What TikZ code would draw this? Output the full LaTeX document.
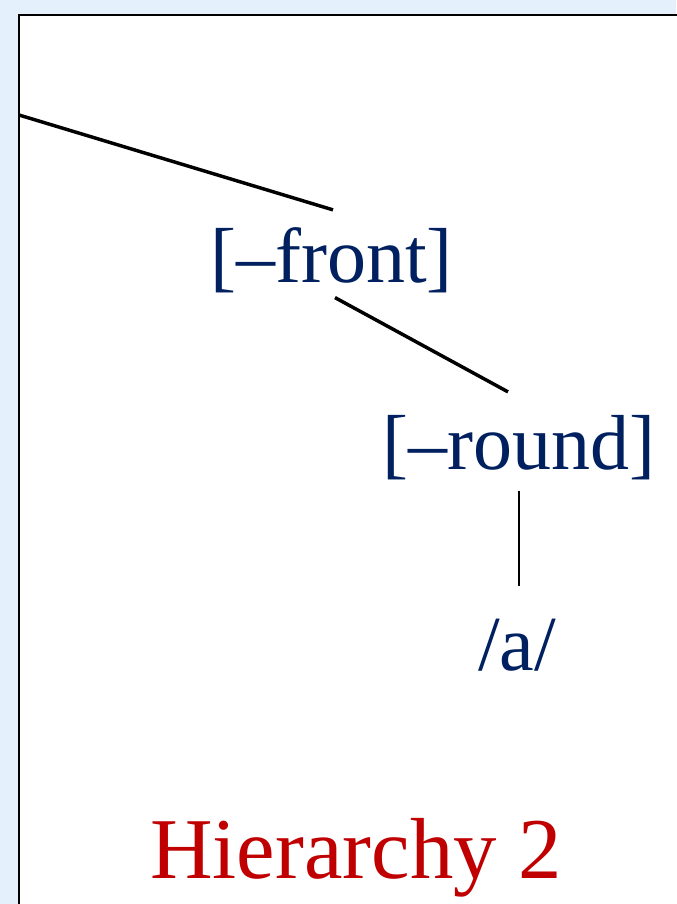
\documentclass[tikz,border=0pt]{standalone}
\usepackage{fontspec}
\setmainfont{Liberation Serif}
\definecolor{featblue}{HTML}{002060}
\definecolor{titlered}{HTML}{C00000}
\definecolor{paleblue}{HTML}{E4F1FD}
\begin{document}
\begin{tikzpicture}[
  x=0.75pt,y=-0.75pt,
  feat/.style={anchor=base,inner sep=0pt,text height=40.4pt,text depth=7pt,text=featblue,font=\fontsize{58.5}{70}\selectfont},
  title/.style={anchor=base,inner sep=0pt,text=titlered,font=\fontsize{65}{78}\selectfont},
  branch/.style={black,line width=2.6pt},
  stem/.style={black,line width=1.3pt}
]
  \useasboundingbox (0,0) rectangle (676,904);
  \fill[paleblue] (0,0) rectangle (676,904);
  \filldraw[fill=white,draw=black,line width=1.5pt] (19,15) rectangle (700,930);

  \coordinate (up) at (19,115);
  \node[feat] (front) at (331.5,282) {[--front]};
  \node[feat] (round) at (519,469) {[--round]};
  \node[feat] (a) at (517,670) {/a/};
  \node[title] (h) at (356,878) {Hierarchy 2};

  \draw[branch] (up)--([shift={(1.5,-18)}]front.north);
  \draw[branch] ([shift={(3.5,6)}]front.south)--([shift={(-11,-23)}]round.north);
  \draw[stem] ([yshift=-9pt]round.south)--([shift={(2,-30)}]a.north);
\end{tikzpicture}
\end{document}
